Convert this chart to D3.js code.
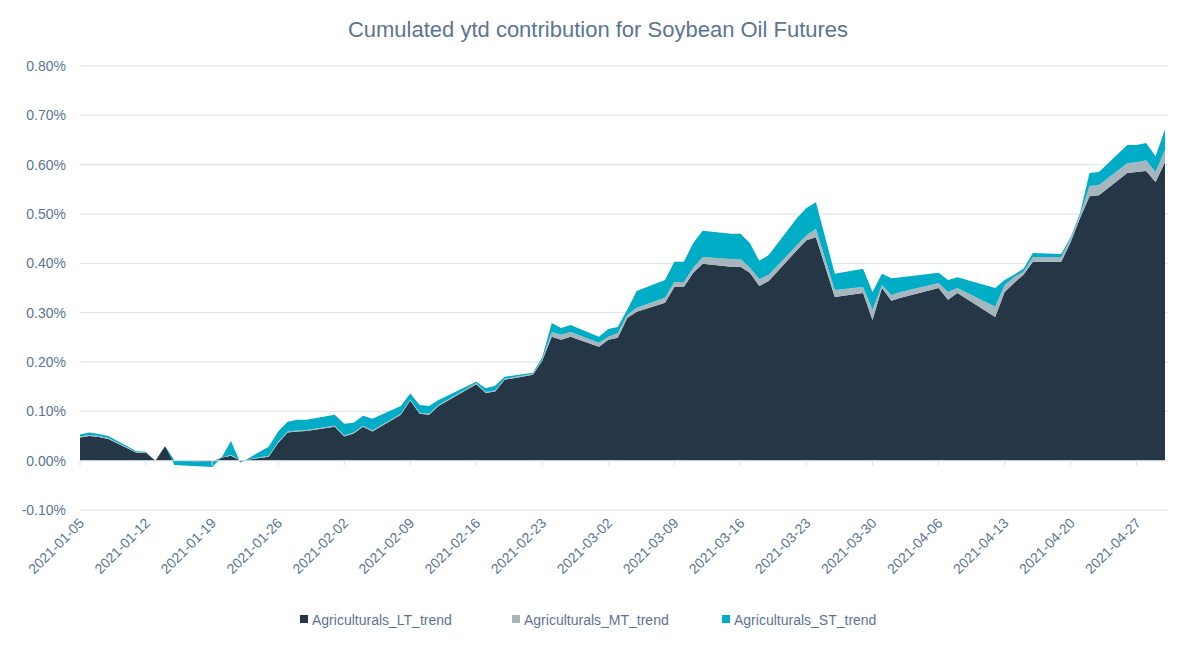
<!DOCTYPE html>
<html>
<head>
<meta charset="utf-8">
<script src="https://cdn.jsdelivr.net/npm/d3@7"></script>
<style>
  body { margin: 0; background: #fff; font-family: "Liberation Sans", Arial, sans-serif; }
  text { fill: #5b7591; }
</style>
</head>
<body>
<script>

// Trading days.
var dates = ['2021-01-05','2021-01-06','2021-01-07','2021-01-08','2021-01-11','2021-01-12','2021-01-13','2021-01-14','2021-01-15','2021-01-19',
  '2021-01-20','2021-01-21','2021-01-22','2021-01-25','2021-01-26','2021-01-27','2021-01-28','2021-01-29','2021-02-01','2021-02-02',
  '2021-02-03','2021-02-04','2021-02-05','2021-02-08','2021-02-09','2021-02-10','2021-02-11','2021-02-12','2021-02-16','2021-02-17',
  '2021-02-18','2021-02-19','2021-02-22','2021-02-23','2021-02-24','2021-02-25','2021-02-26','2021-03-01','2021-03-02','2021-03-03',
  '2021-03-04','2021-03-05','2021-03-08','2021-03-09','2021-03-10','2021-03-11','2021-03-12','2021-03-15','2021-03-16','2021-03-17',
  '2021-03-18','2021-03-19','2021-03-22','2021-03-23','2021-03-24','2021-03-26','2021-03-29','2021-03-30','2021-03-31','2021-04-01',
  '2021-04-02','2021-04-06','2021-04-07','2021-04-08','2021-04-12','2021-04-13','2021-04-14','2021-04-15','2021-04-16','2021-04-19',
  '2021-04-20','2021-04-21','2021-04-22','2021-04-23','2021-04-26','2021-04-27','2021-04-28','2021-04-29','2021-04-30'];

// Contributions, in percent.
var ltTrend = [.047,.050,.048,.044,.016,.016,.000,.029,.000,-.002,
  .006,.010,.000,.008,.036,.057,.059,.060,.069,.049,
  .055,.069,.059,.093,.122,.095,.093,.111,.155,.137,
  .140,.164,.174,.203,.251,.245,.251,.231,.245,.249,
  .289,.302,.320,.352,.352,.381,.399,.393,.393,.381,
  .354,.364,.427,.447,.453,.332,.340,.285,.350,.324,
  .330,.350,.326,.340,.291,.342,.360,.377,.403,.403,
  .443,.492,.536,.538,.583,.585,.587,.565,.605];
var mtTrend = [.002,.002,.002,.002,.001,.001,.000,.000,.000,.000,
  .000,.002,.000,.002,.002,.002,.002,.002,.002,.002,
  .002,.002,.002,.002,.002,.002,.002,.002,.002,.002,
  .002,.002,.002,.003,.010,.010,.010,.008,.006,.010,
  .007,.008,.010,.010,.010,.010,.014,.016,.016,.010,
  .014,.013,.010,.010,.017,.014,.012,.021,.006,.012,
  .012,.010,.016,.010,.021,.014,.012,.006,.010,.010,
  .007,.006,.021,.021,.020,.020,.022,.020,.025];
var stTrend = [.004,.005,.004,.004,.002,.001,.000,.000,-.009,-.011,
  .000,.028,-.004,.018,.021,.020,.022,.021,.022,.024,
  .020,.020,.024,.016,.012,.016,.016,.010,.003,.008,
  .010,.004,.002,.004,.018,.014,.014,.012,.016,.012,
  .010,.034,.036,.041,.041,.050,.053,.051,.051,.050,
  .037,.040,.055,.055,.054,.033,.037,.036,.023,.034,
  .030,.021,.024,.022,.038,.010,.005,.006,.008,.006,
  .003,.004,.026,.026,.037,.035,.035,.032,.042];

var seriesNames = ['Agriculturals_LT_trend', 'Agriculturals_MT_trend', 'Agriculturals_ST_trend'];
var seriesColors = ['#253646', '#a7b6be', '#00adc6'];
var yTicks = [-0.1, 0, 0.1, 0.2, 0.3, 0.4, 0.5, 0.6, 0.7, 0.8];

var width = 1200, height = 646;
var margin = { left: 80, right: 32, top: 66, bottom: 136 };

var parse = d3.timeParse('%Y-%m-%d');
var fmt = d3.timeFormat('%Y-%m-%d');

// Build rows for the stack.
var rows = dates.map(function(d, i) {
  var row = { date: parse(d) };
  row[seriesNames[0]] = ltTrend[i];
  row[seriesNames[1]] = mtTrend[i];
  row[seriesNames[2]] = stTrend[i];
  return row;
});

var svg = d3.select('body').append('svg')
  .attr('width', width)
  .attr('height', height);

var x = d3.scaleTime()
  .domain([parse('2021-01-05'), parse('2021-04-30')])
  .range([margin.left, width - margin.right - 3]);

var y = d3.scaleLinear()
  .domain([-0.1, 0.8])
  .range([height - margin.bottom, margin.top]);

// Title.
svg.append('text')
  .attr('x', width / 2 - 2)
  .attr('y', 37)
  .attr('text-anchor', 'middle')
  .style('font-size', '22px')
  .text('Cumulated ytd contribution for Soybean Oil Futures');

// Gridlines and y labels.
svg.append('g').selectAll('line')
  .data(yTicks).enter().append('line')
  .attr('x1', margin.left).attr('x2', width - margin.right)
  .attr('y1', y).attr('y2', y)
  .attr('stroke', '#d9e1ea').attr('stroke-width', 1);

svg.append('g').selectAll('text')
  .data(yTicks).enter().append('text')
  .attr('x', margin.left - 14)
  .attr('y', function(d) { return y(d) + 5; })
  .attr('text-anchor', 'end')
  .style('font-size', '14px')
  .text(function(d) { return d.toFixed(2) + '%'; });

// Stacked areas.
var stack = d3.stack().keys(seriesNames);
var area = d3.area()
  .x(function(d) { return x(d.data.date); })
  .y0(function(d) { return y(d[0]); })
  .y1(function(d) { return y(d[1]); });

svg.append('g').selectAll('path')
  .data(stack(rows)).enter().append('path')
  .attr('d', area)
  .attr('fill', function(d, i) { return seriesColors[i]; });

// Zero axis line and ticks.
var xTicks = d3.timeDay.range(parse('2021-01-05'), parse('2021-05-01'), 7);
svg.append('line')
  .attr('x1', margin.left).attr('x2', width - margin.right)
  .attr('y1', y(0)).attr('y2', y(0))
  .attr('stroke', '#d9e1ea');

svg.append('g').selectAll('line')
  .data(xTicks).enter().append('line')
  .attr('x1', x).attr('x2', x)
  .attr('y1', y(0)).attr('y2', y(0) + 5)
  .attr('stroke', '#d9e1ea');

svg.append('g').selectAll('text')
  .data(xTicks).enter().append('text')
  .attr('transform', function(d) { return 'translate(' + (x(d) + 5) + ',' + (y(-0.1) + 14) + ') rotate(-45)'; })
  .attr('text-anchor', 'end')
  .style('font-size', '14px')
  .text(fmt);

// Legend.
var legendX = [300, 512, 722];
var legend = svg.append('g').selectAll('g')
  .data(seriesNames).enter().append('g')
  .attr('transform', function(d, i) { return 'translate(' + legendX[i] + ',620)'; });

legend.append('rect')
  .attr('x', 0).attr('y', -5)
  .attr('width', 8).attr('height', 8)
  .attr('fill', function(d, i) { return seriesColors[i]; });

legend.append('text')
  .attr('x', 12).attr('y', 5)
  .style('font-size', '14px')
  .text(function(d) { return d; });

</script>
</body>
</html>
